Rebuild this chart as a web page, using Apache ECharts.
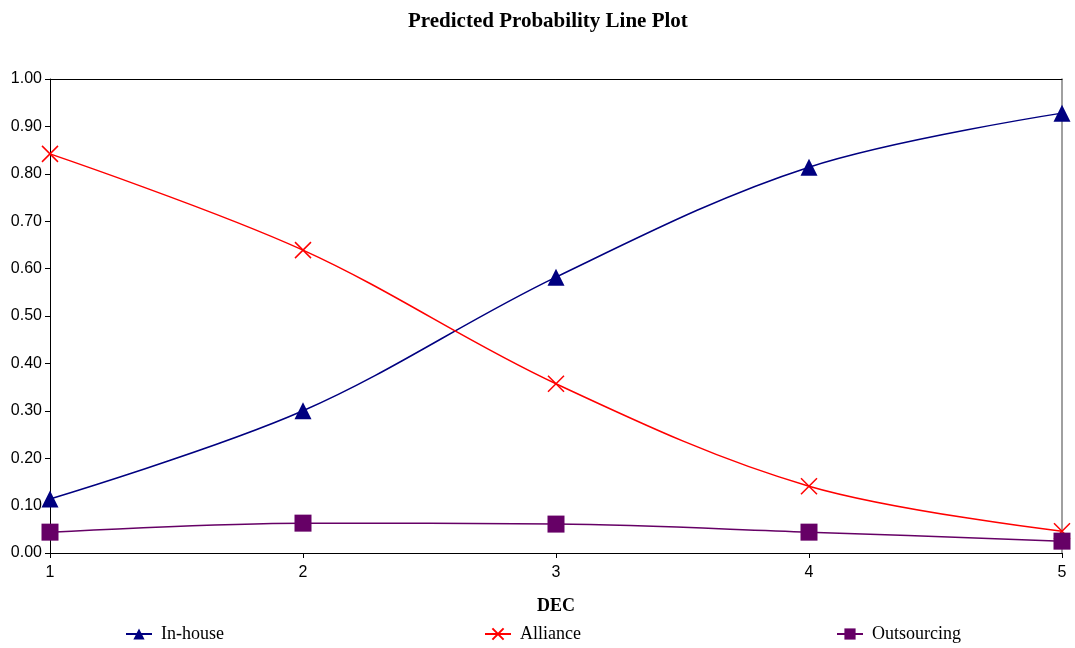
<!DOCTYPE html>
<html>
<head>
<meta charset="utf-8">
<script src="https://cdn.jsdelivr.net/npm/echarts@6/dist/echarts.min.js"></script>
<style>
  html, body { margin: 0; padding: 0; background: #fff; }
  #chart { width: 1075px; height: 648px; }
</style>
</head>
<body>
<div id="chart"></div>
<script>
// predicted probabilities by DEC
const decValues = [1, 2, 3, 4, 5]
const inHouse = [0.114, 0.300, 0.582, 0.814, 0.928]
const alliance = [0.842, 0.639, 0.357, 0.141, 0.046]
const outsourcing = [0.044, 0.063, 0.061, 0.044, 0.025]

const chart = echarts.init(document.getElementById('chart'))

const serif = 'Liberation Serif, Times New Roman, serif'
const sans = 'Liberation Sans, Arial, sans-serif'

function pairs(vals) {
  return decValues.map((d, i) => [d, vals[i]])
}

function seriesLine(name, vals, color, symbol, size, extra) {
  return Object.assign({
    name,
    type: 'line',
    smooth: 0.35,
    data: pairs(vals),
    symbol,
    symbolSize: size,
    showAllSymbol: true,
    lineStyle: { color, width: 1.5 },
    itemStyle: { color },
    emphasis: { disabled: true },
    z: 3,
  }, extra || {})
}

chart.setOption({
  animation: false,
  title: {
    text: 'Predicted Probability Line Plot',
    left: 403,
    top: 6,
    textStyle: { fontFamily: serif, fontSize: 21, fontWeight: 'bold', color: '#000' },
  },
  legend: [
    { data: ['In-house'], left: 120, top: 620 },
    { data: ['Alliance'], left: 479, top: 620 },
    { data: ['Outsourcing'], left: 831, top: 620 },
  ].map(l => Object.assign(l, {
    itemWidth: 26, itemHeight: 14,
    textStyle: { fontFamily: serif, fontSize: 18, color: '#000', padding: [0, 0, 0, 4] },
  })),
  grid: { left: 50, right: 13, top: 79, bottom: 95 },
  xAxis: [
    {
      type: 'value', min: 1, max: 5, interval: 1,
      name: 'DEC', nameLocation: 'middle', nameGap: 44,
      nameTextStyle: { fontFamily: serif, fontSize: 18, fontWeight: 'bold', color: '#000' },
      axisLine: { lineStyle: { color: '#000', width: 1 } },
      axisTick: { show: true, length: 5, lineStyle: { color: '#000' } },
      axisLabel: { color: '#000', fontFamily: sans, fontSize: 16, margin: 12 },
      splitLine: { show: false },
    },
    {
      type: 'value', min: 1, max: 5, position: 'top',
      axisLine: { show: true, onZero: false, lineStyle: { color: '#000', width: 1 } },
      axisTick: { show: false }, axisLabel: { show: false }, splitLine: { show: false },
    },
  ],
  yAxis: [
    {
      type: 'value', min: 0, max: 1, interval: 0.1,
      axisLine: { show: true, lineStyle: { color: '#000', width: 1 } },
      axisTick: { show: true, length: 5, lineStyle: { color: '#000' } },
      axisLabel: { color: '#000', fontFamily: sans, fontSize: 16, margin: 8, formatter: v => v.toFixed(2) },
      splitLine: { show: false },
    },
    {
      type: 'value', min: 0, max: 1, position: 'right',
      axisLine: { show: true, onZero: false, lineStyle: { color: '#808080', width: 1.5 } },
      axisTick: { show: false }, axisLabel: { show: false }, splitLine: { show: false },
    },
  ],
  series: [
    seriesLine('In-house', inHouse, '#000080', 'triangle', 17),
    seriesLine('Alliance', alliance, '#ff0000', 'path://M0,0L10,10M10,0L0,10', 16, {
      itemStyle: { color: '#ff0000', borderColor: '#ff0000', borderWidth: 1.5 },
    }),
    seriesLine('Outsourcing', outsourcing, '#660066', 'rect', 17),
  ],
})
</script>
</body>
</html>
